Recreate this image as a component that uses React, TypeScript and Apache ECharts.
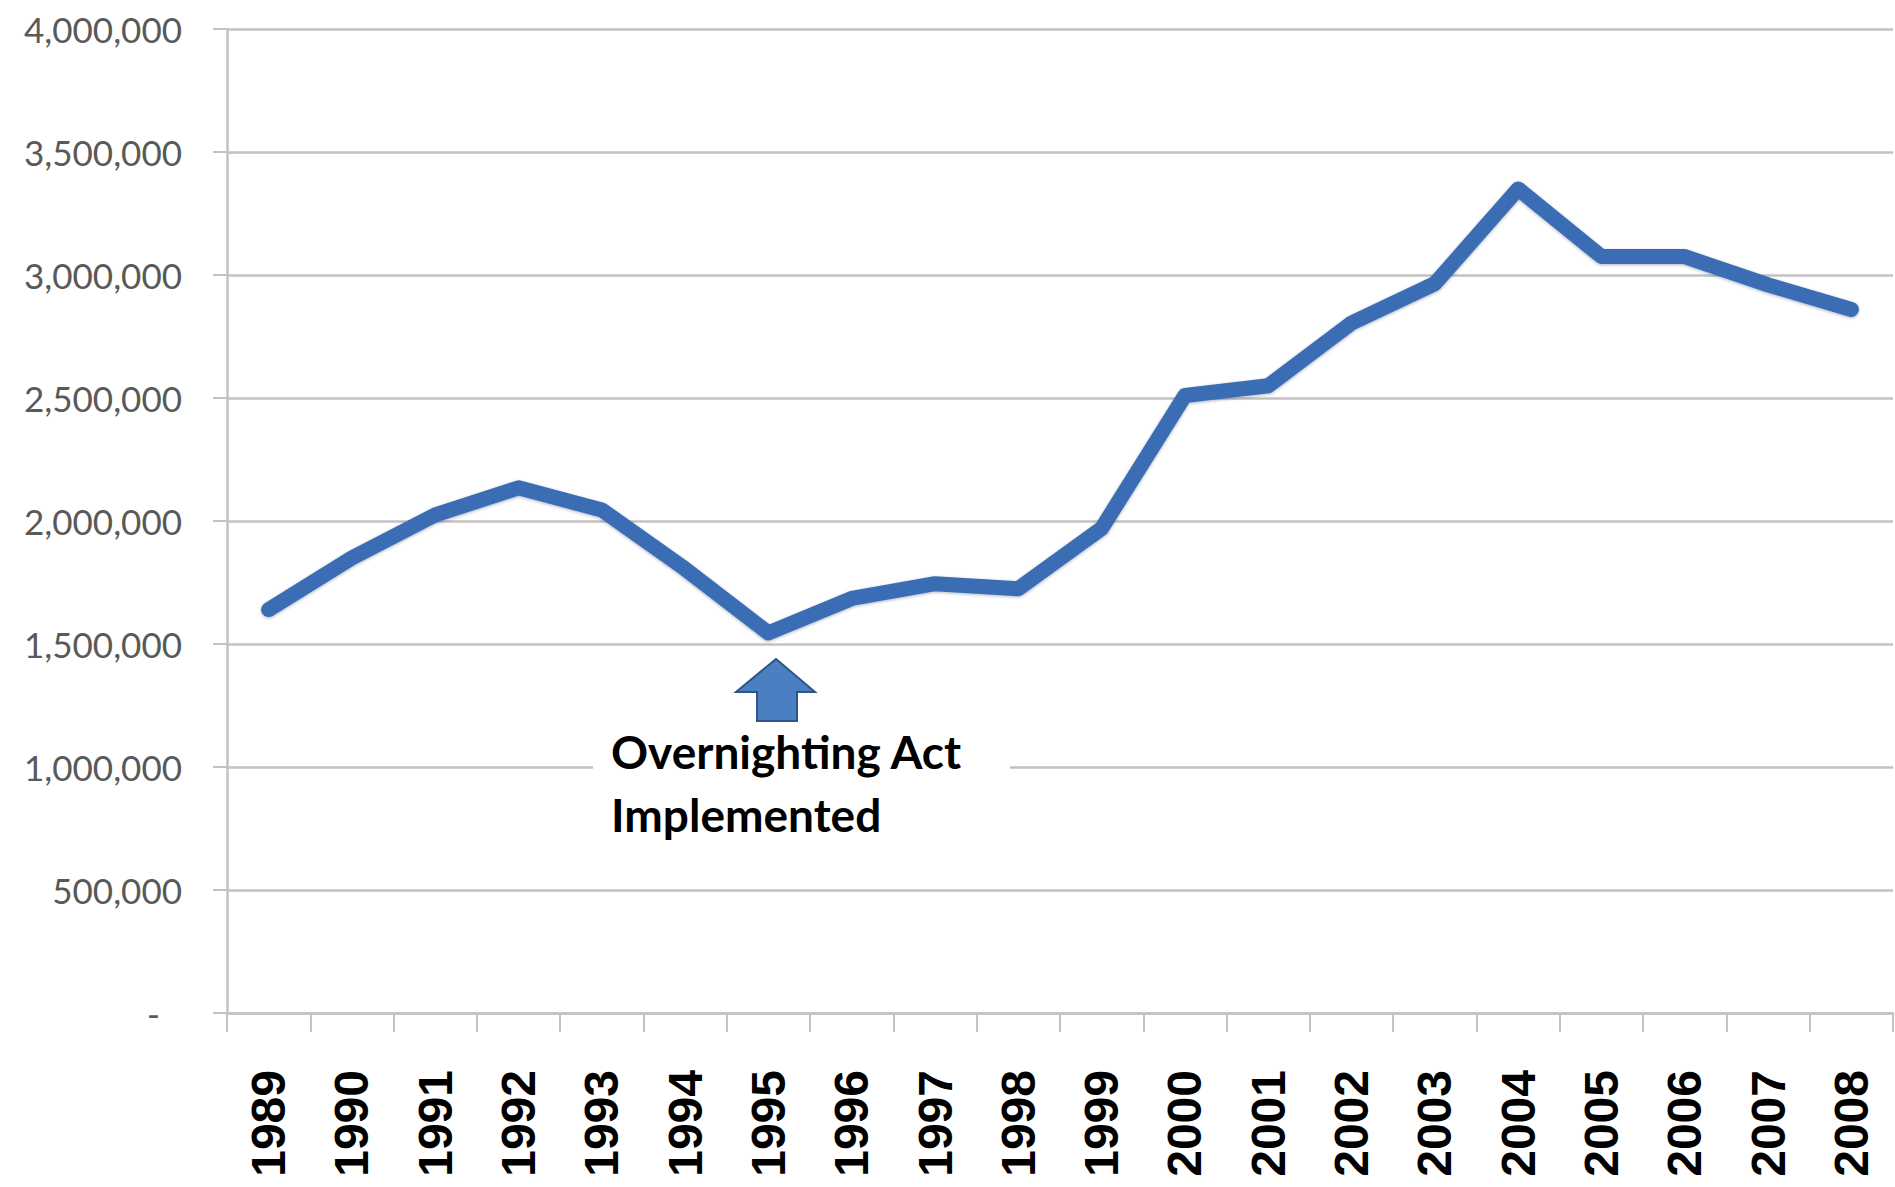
import React, { useEffect, useRef } from "react";
import * as echarts from "echarts";

const years = [
  "1989", "1990", "1991", "1992", "1993", "1994", "1995", "1996", "1997", "1998",
  "1999", "2000", "2001", "2002", "2003", "2004", "2005", "2006", "2007", "2008",
];
const visitors = [
  1640000, 1850000, 2025000, 2135000, 2045000, 1805000, 1545000, 1685000, 1745000, 1725000,
  1970000, 2510000, 2550000, 2805000, 2965000, 3350000, 3075000, 3075000, 2960000, 2860000,
];
const yMin = 0;
const yMax = 4000000;
const yStep = 500000;
const noteLines = ["Overnighting Act", "Implemented"];

export default function App() {
  const ref = useRef<HTMLDivElement>(null);
  useEffect(() => {
    if (!ref.current) return;
    const chart = echarts.init(ref.current, null, { renderer: "svg" });
    const gridColor = "#c2c2c2";
    chart.setOption({
      animation: false,
      backgroundColor: "#ffffff",
      grid: { left: 227, right: 2, top: 29, bottom: 174, containLabel: false },
      xAxis: {
        type: "category",
        data: years,
        boundaryGap: true,
        axisLine: { show: true, lineStyle: { color: gridColor, width: 2.5 } },
        axisTick: { show: true, alignWithLabel: false, interval: 0, length: 19, lineStyle: { color: gridColor, width: 2 } },
        axisLabel: {
          interval: 0,
          rotate: 90,
          margin: 57,
          color: "#000000",
          fontFamily: "Liberation Sans",
          fontWeight: "bold",
          fontSize: 48,
        },
        splitLine: { show: false },
      },
      yAxis: {
        type: "value",
        min: yMin,
        max: yMax,
        interval: yStep,
        axisLine: { show: true, lineStyle: { color: gridColor, width: 2.5 } },
        axisTick: { show: true, length: 14, lineStyle: { color: gridColor, width: 2 } },
        splitLine: { show: true, lineStyle: { color: gridColor, width: 2.5 } },
        axisLabel: {
          margin: 45,
          color: "#595959",
          fontFamily: "Lato",
          fontSize: 35,
          formatter: (v: number) => (v === 0 ? "{dash|-}" : v.toLocaleString("en-US")),
          rich: {
            dash: { fontFamily: "Lato", fontSize: 35, color: "#595959", padding: [0, 22, 0, 0] },
          },
        },
      },
      series: [
        {
          type: "line",
          data: visitors,
          showSymbol: false,
          symbol: "none",
          lineStyle: {
            color: "#3a6db5",
            width: 15,
            cap: "round",
            join: "round",
            shadowColor: "rgba(20,40,80,0.35)",
            shadowBlur: 3,
            shadowOffsetY: 1,
          },
          z: 3,
        },
      ],
      graphic: [
        {
          type: "rect",
          shape: { x: 593, y: 735, width: 417, height: 118 },
          style: { fill: "#ffffff" },
          z: 10,
        },
        {
          type: "text",
          x: 611,
          y: 720,
          style: {
            text: noteLines.join("\n"),
            fontFamily: "Lato",
            fontWeight: "bold",
            fontSize: 46,
            lineHeight: 63,
            fill: "#000000",
          },
          z: 11,
        },
        {
          type: "polygon",
          shape: {
            points: [
              [776, 659],
              [815, 692],
              [797, 692],
              [797, 721],
              [757, 721],
              [757, 692],
              [736, 692],
            ],
          },
          style: { fill: "#4a7fc1", stroke: "#2f5489", lineWidth: 2 },
          z: 11,
        },
      ],
    });
    return () => chart.dispose();
  }, []);
  return (
    <div
      ref={ref}
      style={{ position: "absolute", left: 0, top: 0, width: 1895, height: 1187 }}
    />
  );
}
